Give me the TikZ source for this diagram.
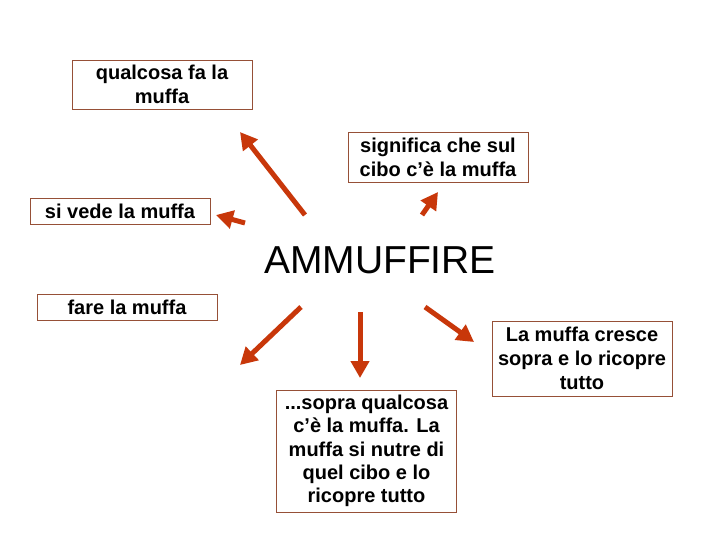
\documentclass[tikz,border=0pt]{standalone}
\usepackage{fontspec}
\setmainfont{Liberation Sans}
\usetikzlibrary{arrows.meta}
\definecolor{arrowc}{RGB}{200,55,10}
\definecolor{boxc}{RGB}{150,80,55}
\begin{document}
\begin{tikzpicture}[x=1pt,y=-1pt,
 box/.style={draw=boxc,line width=0.9pt,minimum width=180pt,inner sep=0pt,align=center,font=\fontsize{20}{24}\selectfont\bfseries},
 arr/.style={draw=arrowc,line width=5pt,-{Triangle[length=17pt,width=18pt]}}]
\useasboundingbox[fill=white] (0,0) rectangle (720,540);
\node[box,minimum height=49pt] (qual) at (162,84.5) {qualcosa fa la\\muffa};
\node[box,minimum height=50pt] (sign) at (438,157) {significa che sul\\cibo c’è la muffa};
\node[box,minimum height=26pt] (vede) at (120,211) {si vede la muffa};
\node[box,minimum height=26pt] (fare) at (127,307) {fare la muffa};
\node[box,minimum height=75pt] (cresce) at (582,358.5) {La muffa cresce\\sopra e lo ricopre\\tutto};
\node[box,minimum height=122pt,font=\fontsize{20}{23.2}\selectfont\bfseries] (sopra) at (366.5,451) {...sopra qualcosa\\c’è la muffa. La\\muffa si nutre di\\quel cibo e lo\\ricopre tutto};
\node[inner sep=0pt,font=\fontsize{39}{47}\selectfont] (amm) at (380,260.5) {AMMUFFIRE};
% arrow end points
\coordinate (t1) at (305,215); \coordinate (h1) at (240,132);
\coordinate (t2) at (245,223); \coordinate (h2) at (216,215);
\coordinate (t3) at (422,215); \coordinate (h3) at (438,192);
\coordinate (t4) at (301,307); \coordinate (h4) at (240,365);
\coordinate (t5) at (360,312); \coordinate (h5) at (360,378);
\coordinate (t6) at (425,307); \coordinate (h6) at (474,342);
\draw[arr] (t1) -- (h1);
\draw[arr] (t2) -- (h2);
\draw[arr] (t3) -- (h3);
\draw[arr] (t4) -- (h4);
\draw[arr] (t5) -- (h5);
\draw[arr] (t6) -- (h6);
\end{tikzpicture}
\end{document}
